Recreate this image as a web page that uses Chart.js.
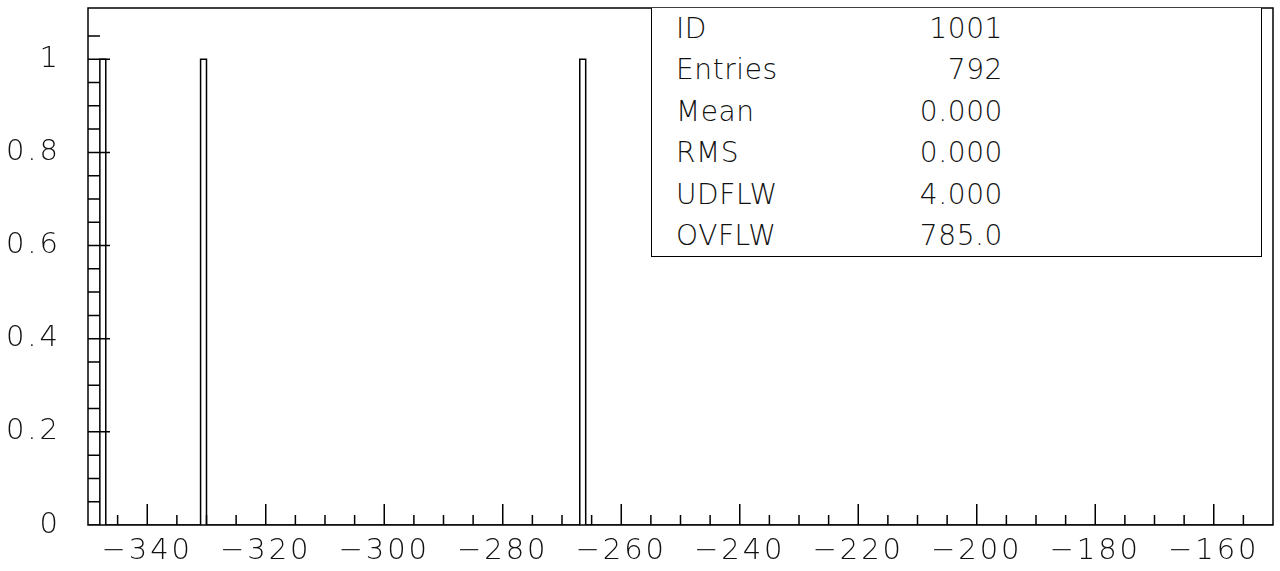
<!DOCTYPE html>
<html>
<head>
<meta charset="utf-8">
<title>Histogram 1001</title>
<script src="https://cdn.jsdelivr.net/npm/chart.js@4/dist/chart.umd.min.js"></script>
<style>
    html, body { margin: 0; padding: 0; background: #fff; }
    #wrap { position: relative; width: 1280px; height: 571px; }
    #stats {
        position: absolute; left: 651px; top: 8px; width: 611px; height: 249px;
        border: 1.5px solid #000; border-top: none; box-sizing: border-box;
        background: #fff;
        font-family: "DejaVu Sans", sans-serif; font-weight: 200; font-size: 28px; color: #111;
        letter-spacing: 0.6px;
    }
    #stats .row { position: relative; height: 41.4px; line-height: 41.4px; }
    #stats .lbl { position: absolute; left: 24px; }
    #stats .val { position: absolute; right: 258px; }
</style>
</head>
<body>
<div id="wrap">
    <canvas id="histo" width="1280" height="571"></canvas>
    <div id="stats"></div>
</div>
<script>
// histogram binning
const xMin = -350;
const xMax = -150;
const binWidth = 1;
const yMax = 1.11;

// bins that got an entry (lower edge) and their contents
const hitBins = [-348, -331, -267];
const hitCounts = [1, 1, 1];

// tick labels
const xTickLabels = [-340, -320, -300, -280, -260, -240, -220, -200, -180, -160];
const yTickLabels = [0, 0.2, 0.4, 0.6, 0.8, 1];

// statistics box
const statLabels = ['ID', 'Entries', 'Mean', 'RMS', 'UDFLW', 'OVFLW'];
const statValues = ['1001', '792', '0.000', '0.000', '4.000', '785.0'];

// build the outline of the histogram as a step line
function histOutline() {
    const pts = [{ x: xMin, y: 0 }];
    hitBins.forEach((lo, i) => {
        const hi = lo + binWidth;
        pts.push({ x: lo, y: 0 }, { x: lo, y: hitCounts[i] }, { x: hi, y: hitCounts[i] }, { x: hi, y: 0 });
    });
    pts.push({ x: xMax, y: 0 });
    return pts;
}

const FONT = { family: '"DejaVu Sans", sans-serif', size: 29, weight: 200 };

// kill the label overhang padding so the frame sits where we want it
function fixBox(size) {
    return s => {
        if (s.isHorizontal()) s.height = size; else s.width = size;
        s.paddingTop = 0; s.paddingBottom = 0; s.paddingLeft = 0; s.paddingRight = 0;
    };
}

// frame + inward PAW style ticks
const pawAxes = {
    id: 'pawAxes',
    beforeDraw(chart) {
        // a bit of spacing, the old hershey font is wide
        chart.ctx.letterSpacing = '3px';
    },
    afterDatasetsDraw(chart) {
        const ctx = chart.ctx;
        const a = chart.chartArea;
        const xs = chart.scales.x, ys = chart.scales.y;
        ctx.save();
        ctx.strokeStyle = '#000';
        ctx.lineWidth = 1.5;
        ctx.strokeRect(a.left, a.top, a.right - a.left, a.bottom - a.top);
        ctx.beginPath();
        xs.ticks.forEach(t => {
            const v = Math.round(t.value);
            if (v % 5 !== 0 || v <= xMin || v >= xMax) return;
            const px = xs.getPixelForValue(v);
            const len = v % 20 === 0 ? 21 : 10;
            ctx.moveTo(px, a.bottom);
            ctx.lineTo(px, a.bottom - len);
        });
        ys.ticks.forEach(t => {
            const v = Math.round(t.value * 100);
            if (v % 5 !== 0 || v <= 0) return;
            const py = ys.getPixelForValue(v / 100);
            const len = v % 20 === 0 ? 22 : 12;
            ctx.moveTo(a.left, py);
            ctx.lineTo(a.left + len, py);
        });
        ctx.stroke();
        ctx.restore();
    },
    afterDraw(chart) {
        chart.ctx.letterSpacing = '0px';
    }
};

new Chart(document.getElementById('histo'), {
    type: 'line',
    data: {
        datasets: [{
            data: histOutline(),
            borderColor: '#000',
            borderWidth: 1.5,
            pointRadius: 0,
            tension: 0,
            fill: false
        }]
    },
    options: {
        responsive: false,
        animation: false,
        events: [],
        layout: { padding: { top: 8, right: 7, left: 0, bottom: 0 } },
        plugins: { legend: { display: false }, tooltip: { enabled: false } },
        scales: {
            x: {
                type: 'linear',
                min: xMin,
                max: xMax,
                grid: { display: false, drawTicks: false },
                border: { display: false },
                afterFit: fixBox(46),
                ticks: {
                    stepSize: 5,
                    autoSkip: false,
                    maxRotation: 0,
                    padding: 9,
                    color: '#111',
                    font: FONT,
                    callback: v => xTickLabels.includes(Math.round(v)) ? '\u2212' + Math.abs(Math.round(v)) : ''
                }
            },
            y: {
                min: 0,
                max: yMax,
                grid: { display: false, drawTicks: false },
                border: { display: false },
                afterFit: fixBox(88),
                ticks: {
                    stepSize: 0.05,
                    autoSkip: false,
                    padding: 27,
                    color: '#111',
                    font: FONT,
                    callback: v => {
                        const hit = yTickLabels.find(l => Math.abs(l - v) < 1e-6);
                        return hit === undefined ? '' : String(hit);
                    }
                }
            }
        }
    },
    plugins: [pawAxes]
});

// stats box text
const box = document.getElementById('stats');
statLabels.forEach((name, i) => {
    const row = document.createElement('div');
    row.className = 'row';
    row.innerHTML = '<span class="lbl">' + name + '</span><span class="val">' + statValues[i] + '</span>';
    box.appendChild(row);
});
</script>
</body>
</html>
